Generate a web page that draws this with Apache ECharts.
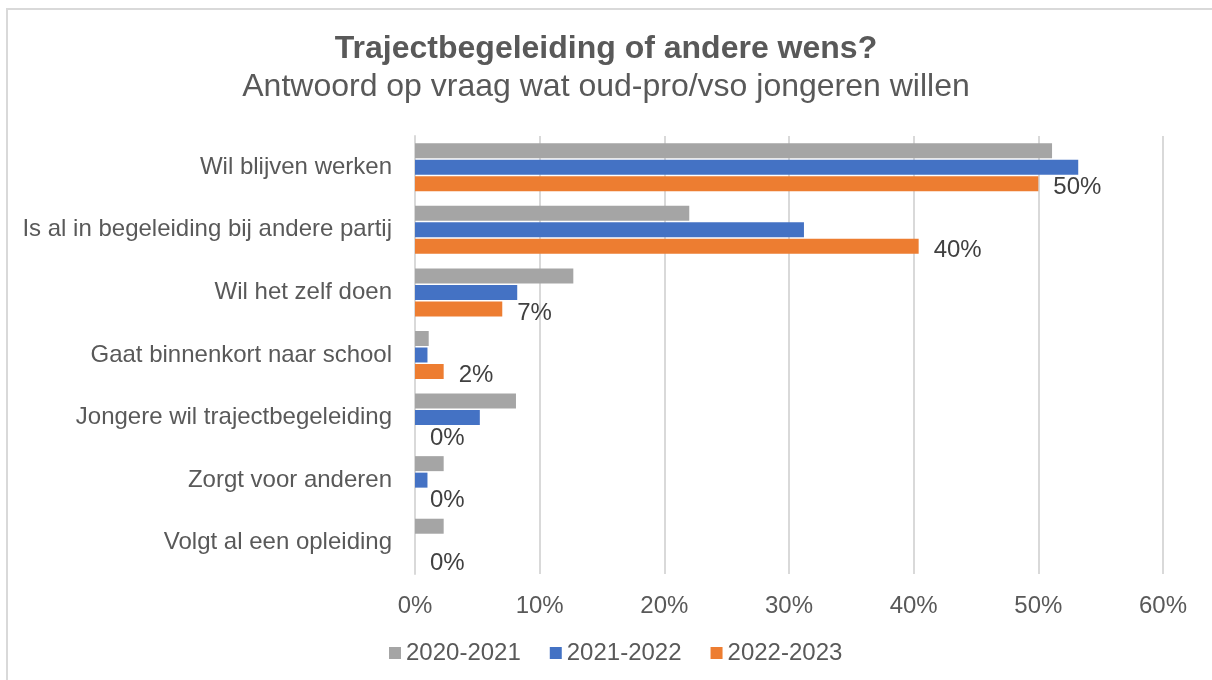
<!DOCTYPE html>
<html>
<head>
<meta charset="utf-8">
<script src="https://cdn.jsdelivr.net/npm/echarts@6/dist/echarts.min.js"></script>
<style>
html, body { margin: 0; padding: 0; background: #fff; }
#c { width: 1212px; height: 680px; }
</style>
</head>
<body>
<div id="c"></div>
<script>
// categories, top to bottom
var categories = [
    'Wil blijven werken',
    'Is al in begeleiding bij andere partij',
    'Wil het zelf doen',
    'Gaat binnenkort naar school',
    'Jongere wil trajectbegeleiding',
    'Zorgt voor anderen',
    'Volgt al een opleiding'
];
var seriesNames = ['2020-2021', '2021-2022', '2022-2023'];
var values2020 = [51.1, 22.0, 12.7, 1.1, 8.1, 2.3, 2.3];
var values2021 = [53.2, 31.2, 8.2, 1.0, 5.2, 1.0, 0];
var values2022 = [50.0, 40.4, 7.0, 2.3, 0, 0, 0];
var colors = ['#a5a5a5', '#4472c4', '#ed7d31'];
var xTicks = [0, 10, 20, 30, 40, 50, 60];

var font = 'Liberation Sans, Arial, sans-serif';
var myChart = echarts.init(document.getElementById('c'));

function bar(i, data, withLabel) {
    return {
        name: seriesNames[i],
        type: 'bar',
        data: data,
        barWidth: 15,
        barGap: '10%',
        itemStyle: { color: colors[i] },
        label: {
            show: withLabel,
            position: 'right',
            distance: 15,
            offset: [0, 4],
            fontFamily: font,
            fontSize: 24,
            color: '#404040',
            formatter: function (p) { return Math.round(p.value) + '%'; }
        }
    };
}

var option = {
    animation: false,
    backgroundColor: '#fff',
    title: {
        text: 'Trajectbegeleiding of andere wens?',
        subtext: 'Antwoord op vraag wat oud-pro/vso jongeren willen',
        left: 'center',
        top: 26,
        itemGap: 2,
        textStyle: { fontFamily: font, fontSize: 32, fontWeight: 'bold', color: '#595959', lineHeight: 36 },
        subtextStyle: { fontFamily: font, fontSize: 32, color: '#595959', lineHeight: 36 }
    },
    legend: {
        bottom: 10,
        left: 384,
        itemWidth: 12,
        itemHeight: 12,
        itemGap: 29,
        icon: 'rect',
        textStyle: { fontFamily: font, fontSize: 24, color: '#595959' },
        data: seriesNames
    },
    grid: { left: 415, right: 49, top: 136, bottom: 106, containLabel: false },
    xAxis: {
        type: 'value',
        min: 0,
        max: xTicks[xTicks.length - 1],
        interval: 10,
        axisLine: { show: false },
        axisTick: { show: false },
        splitLine: { lineStyle: { color: '#d9d9d9', width: 2 } },
        axisLabel: {
            fontFamily: font, fontSize: 24, color: '#595959', margin: 20,
            formatter: function (v) { return v + '%'; }
        }
    },
    yAxis: {
        type: 'category',
        inverse: true,
        data: categories,
        axisLine: { show: true, lineStyle: { color: '#d9d9d9', width: 2 } },
        axisTick: { show: false },
        axisLabel: { fontFamily: font, fontSize: 24, color: '#595959', margin: 23 }
    },
    graphic: [{
        type: 'rect',
        shape: { x: 7, y: 9, width: 1230, height: 700 },
        style: { fill: 'none', stroke: '#d9d9d9', lineWidth: 2 },
        silent: true
    }],
    series: [
        bar(0, values2020, false),
        bar(1, values2021, false),
        bar(2, values2022, true)
    ]
};
myChart.setOption(option);
</script>
</body>
</html>
